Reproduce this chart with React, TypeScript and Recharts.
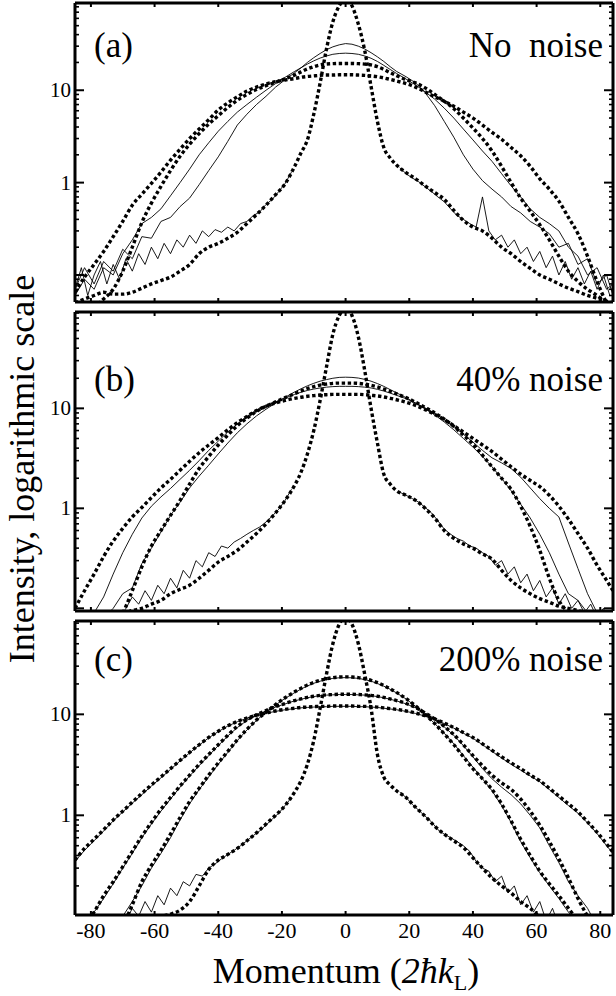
import React from "react";
import { LineChart, Line, XAxis, YAxis } from "recharts";

// momentum grid shared by the smooth curves
const momentum = [
  -85, -82, -79, -76, -73, -70, -67, -64, -61, -58, -55, -52, -49, -46, -43, -40, -37, -34, -31, -28, -25, -22, -19, -16,
  -14, -12, -10, -8, -6, -4, -2, 0, 2, 4, 6, 8, 10, 12, 14,
  16, 19, 22, 25, 28, 31, 34, 37, 40, 43, 46, 49, 52, 55, 58, 61, 64, 67, 70, 73, 76, 79, 82, 84,
];
// grids for the noisy wings of the measured narrow peak
const tailLeft = [
  -85, -83, -81, -79, -77, -75, -73, -71, -69, -67, -65, -63, -61, -59, -57, -55, -53, -51, -49, -47, -45, -43, -41, -39,
  -37, -35, -33, -31, -29, -27, -25, -23, -21, -19, -17,
];
const tailRight = [
  17, 19, 21, 23, 25, 27, 29, 31, 33, 35, 37, 39, 41, 43, 45, 47, 49, 51, 53, 55, 57, 59, 61, 63, 65, 67, 69, 71, 73, 75,
  77, 79, 81, 83,
];

const xTicks = [-80, -60, -40, -20, 0, 20, 40, 60, 80];
const panelTags = ["(a)", "(b)", "(c)"];
const panelTitles = ["No  noise", "40% noise", "200% noise"];

// (a) no noise
const aPeak = [0.05, 0.055, 0.06, 0.065, 0.062, 0.062, 0.065, 0.072, 0.08, 0.087, 0.095, 0.11, 0.13, 0.17, 0.2, 0.22, 0.25, 0.29, 0.36, 0.45, 0.57, 0.74, 0.97, 1.5, 2.1, 2.9, 5.5, 12, 28, 55, 82, 98, 82, 52, 27, 11, 4.6, 2.4, 1.85, 1.55, 1.28, 1.1, 0.92, 0.78, 0.66, 0.5, 0.39, 0.33, 0.3, 0.25, 0.2, 0.17, 0.14, 0.118, 0.1, 0.09, 0.08, 0.072, 0.066, 0.06, 0.056, 0.052, 0.05];
const aWide = [0.065, 0.095, 0.13, 0.18, 0.26, 0.38, 0.57, 0.75, 0.98, 1.3, 1.75, 2.3, 3.0, 3.8, 4.8, 6.1, 7.3, 8.5, 9.8, 10.8, 11.7, 12.4, 12.9, 13.4, 13.8, 14.1, 14.3, 14.5, 14.6, 14.6, 14.7, 14.7, 14.7, 14.6, 14.5, 14.3, 14.0, 13.6, 13.1, 12.6, 11.8, 10.8, 9.6, 8.5, 7.6, 6.7, 5.8, 5.0, 4.2, 3.5, 2.95, 2.4, 1.95, 1.5, 1.1, 0.85, 0.63, 0.42, 0.28, 0.16, 0.085, 0.05, 0.04];
const aBroad = [0.03, 0.038, 0.045, 0.055, 0.07, 0.11, 0.2, 0.37, 0.6, 0.91, 1.35, 1.93, 2.6, 3.4, 4.3, 5.3, 6.5, 7.8, 9.0, 10.2, 11.2, 12.2, 13.3, 14.6, 15.8, 17.0, 18.0, 18.8, 19.2, 19.4, 19.5, 19.5, 19.5, 19.4, 19.2, 18.8, 18.0, 16.8, 15.5, 14.4, 13.0, 12.0, 10.6, 9.0, 7.6, 6.3, 5.0, 3.9, 3.0, 2.2, 1.5, 1.0, 0.68, 0.49, 0.35, 0.24, 0.16, 0.11, 0.085, 0.07, 0.06, 0.05, 0.045];
const aSolidHigh = [0.07, 0.12, 0.08, 0.14, 0.11, 0.19, 0.15, 0.26, 0.25, 0.38, 0.42, 0.55, 0.68, 0.95, 1.35, 1.9, 2.8, 4.2, 5.5, 7.0, 8.6, 10.8, 13.0, 15.5, 17.5, 20, 22.5, 25, 27.5, 29.5, 31, 32, 31.5, 30, 28, 25.5, 23, 20.5, 18, 16, 14, 12, 9.4, 6.8, 4.6, 3.1, 2.0, 1.4, 1.05, 0.85, 0.7, 0.55, 0.47, 0.38, 0.33, 0.28, 0.2, 0.22, 0.13, 0.15, 0.08, 0.1, 0.06];
const aSolidLow = [0.06, 0.09, 0.07, 0.12, 0.1, 0.17, 0.24, 0.36, 0.42, 0.52, 0.72, 1.0, 1.4, 2.0, 2.7, 3.6, 4.6, 5.8, 7.0, 8.4, 10, 11.8, 13.8, 16, 17.5, 19.2, 20.8, 22.3, 23.5, 24.5, 25, 25.2, 25, 24.5, 23.5, 22.2, 20.5, 18.6, 16.8, 15.2, 13.2, 11.4, 9.6, 8.0, 6.4, 5.0, 3.8, 2.9, 2.2, 1.7, 1.25, 0.92, 0.7, 0.52, 0.42, 0.36, 0.3, 0.2, 0.16, 0.1, 0.12, 0.07, 0.08];
const aTailL = [0.07, 0.12, 0.06, 0.1, 0.14, 0.08, 0.13, 0.09, 0.15, 0.11, 0.17, 0.13, 0.2, 0.15, 0.22, 0.17, 0.24, 0.2, 0.27, 0.22, 0.3, 0.26, 0.31, 0.29, 0.33, 0.3, 0.36, 0.38, 0.44, 0.48, 0.58, 0.66, 0.8, 0.98, 1.3];
const aTailR = [1.45, 1.25, 1.12, 1.02, 0.9, 0.8, 0.7, 0.62, 0.52, 0.44, 0.4, 0.36, 0.33, 0.7, 0.3, 0.24, 0.27, 0.2, 0.24, 0.17, 0.2, 0.14, 0.18, 0.12, 0.16, 0.1, 0.14, 0.09, 0.12, 0.08, 0.11, 0.07, 0.1, 0.06];

// (b) 40% noise
const bPeak = [0.08, 0.08, 0.085, 0.085, 0.09, 0.09, 0.095, 0.1, 0.11, 0.12, 0.14, 0.155, 0.17, 0.2, 0.24, 0.29, 0.33, 0.38, 0.46, 0.56, 0.7, 0.9, 1.2, 1.7, 2.3, 3.5, 6, 12, 26, 55, 85, 100, 85, 52, 24, 10, 4.5, 2.2, 1.75, 1.5, 1.35, 1.2, 1.0, 0.8, 0.6, 0.5, 0.44, 0.4, 0.35, 0.31, 0.24, 0.19, 0.16, 0.14, 0.125, 0.115, 0.105, 0.1, 0.095, 0.09, 0.088, 0.085, 0.085];
const bWide = [0.1, 0.15, 0.22, 0.33, 0.47, 0.63, 0.82, 1.02, 1.28, 1.6, 1.95, 2.4, 2.95, 3.6, 4.3, 5.1, 6.1, 7.2, 8.3, 9.5, 10.5, 11.3, 12.0, 12.6, 12.9, 13.2, 13.4, 13.6, 13.7, 13.8, 13.8, 13.8, 13.8, 13.8, 13.7, 13.5, 13.3, 13.0, 12.6, 12.2, 11.5, 10.7, 9.7, 8.7, 7.7, 6.7, 5.8, 5.0, 4.3, 3.7, 3.1, 2.6, 2.2, 1.9, 1.65, 1.35, 1.05, 0.78, 0.56, 0.4, 0.27, 0.19, 0.15];
const bBroad = [0.04, 0.045, 0.05, 0.06, 0.07, 0.09, 0.15, 0.26, 0.42, 0.6, 0.85, 1.2, 1.75, 2.5, 3.3, 4.3, 5.4, 6.7, 8.0, 9.3, 10.5, 11.6, 12.8, 14.0, 14.9, 15.8, 16.5, 17.1, 17.5, 17.8, 17.9, 17.9, 17.9, 17.8, 17.5, 17.0, 16.4, 15.6, 14.8, 14.0, 12.8, 11.5, 10.2, 9.0, 7.8, 6.6, 5.4, 4.4, 3.4, 2.6, 2.0, 1.55, 1.05, 0.66, 0.38, 0.2, 0.12, 0.09, 0.075, 0.06, 0.05, 0.045, 0.04];
const bSolidHigh = [0.05, 0.06, 0.07, 0.08, 0.1, 0.14, 0.16, 0.28, 0.4, 0.58, 0.85, 1.15, 1.6, 2.1, 2.7, 3.5, 4.5, 5.7, 7.0, 8.4, 9.8, 11.3, 12.9, 14.6, 15.7, 16.8, 17.8, 18.7, 19.4, 20, 20.4, 20.5, 20.4, 20.1, 19.5, 18.7, 17.7, 16.6, 15.4, 14.3, 12.8, 11.3, 9.9, 8.6, 7.3, 6.1, 5.0, 4.1, 3.3, 2.6, 2.0, 1.5, 1.1, 0.8, 0.55, 0.36, 0.22, 0.14, 0.12, 0.09, 0.08, 0.07, 0.06];
const bSolidLow = [0.06, 0.07, 0.09, 0.13, 0.22, 0.36, 0.55, 0.8, 1.05, 1.3, 1.58, 1.95, 2.4, 3.0, 3.8, 4.7, 5.8, 7.0, 8.3, 9.5, 10.6, 11.6, 12.7, 13.8, 14.5, 15.1, 15.6, 16, 16.3, 16.5, 16.6, 16.6, 16.6, 16.5, 16.3, 16, 15.5, 14.9, 14.2, 13.5, 12.5, 11.3, 10.1, 8.9, 7.7, 6.6, 5.5, 4.6, 3.8, 3.2, 2.85, 2.5, 2.05, 1.6, 1.25, 1.0, 0.82, 0.45, 0.25, 0.14, 0.09, 0.07, 0.06];
const bTailL = [0.05, 0.05, 0.05, 0.05, 0.05, 0.06, 0.07, 0.08, 0.1, 0.13, 0.11, 0.15, 0.12, 0.17, 0.14, 0.2, 0.16, 0.24, 0.2, 0.3, 0.26, 0.36, 0.33, 0.42, 0.4, 0.46, 0.5, 0.55, 0.6, 0.65, 0.73, 0.84, 0.98, 1.2, 1.55];
const bTailR = [1.45, 1.35, 1.25, 1.15, 1.02, 0.9, 0.75, 0.62, 0.55, 0.5, 0.47, 0.42, 0.4, 0.36, 0.33, 0.27, 0.3, 0.22, 0.26, 0.18, 0.22, 0.15, 0.19, 0.13, 0.16, 0.11, 0.14, 0.1, 0.12, 0.09, 0.11, 0.08, 0.1, 0.07];

// (c) 200% noise
const cPeak = [0.09, 0.09, 0.09, 0.09, 0.09, 0.09, 0.09, 0.09, 0.095, 0.1, 0.105, 0.115, 0.14, 0.2, 0.29, 0.36, 0.41, 0.47, 0.56, 0.67, 0.82, 1.0, 1.25, 1.7, 2.2, 3.2, 5.5, 11.5, 25, 50, 78, 92, 78, 50, 25, 11.5, 4, 2.4, 2.0, 1.75, 1.5, 1.2, 0.98, 0.78, 0.65, 0.56, 0.48, 0.38, 0.3, 0.24, 0.2, 0.17, 0.14, 0.12, 0.1, 0.095, 0.09, 0.09, 0.09, 0.09, 0.09, 0.09, 0.09];
const cWide = [0.36, 0.47, 0.58, 0.72, 0.9, 1.1, 1.35, 1.65, 2.0, 2.4, 2.9, 3.5, 4.2, 5.0, 5.9, 6.8, 7.7, 8.5, 9.2, 9.8, 10.3, 10.8, 11.2, 11.5, 11.7, 11.8, 11.9, 12.0, 12.0, 12.1, 12.1, 12.1, 12.1, 12.0, 12.0, 11.9, 11.8, 11.6, 11.4, 11.2, 10.8, 10.3, 9.7, 9.0, 8.2, 7.4, 6.6, 5.9, 5.1, 4.4, 3.8, 3.3, 2.9, 2.5, 2.2, 1.85, 1.55, 1.3, 1.08, 0.86, 0.68, 0.52, 0.43];
const cMid = [0.06, 0.08, 0.11, 0.16, 0.22, 0.31, 0.44, 0.62, 0.85, 1.15, 1.5, 1.95, 2.5, 3.2, 4.0, 5.0, 6.2, 7.6, 8.8, 9.9, 10.9, 11.9, 12.8, 13.7, 14.2, 14.7, 15.1, 15.4, 15.6, 15.7, 15.8, 15.8, 15.8, 15.7, 15.6, 15.4, 15.1, 14.7, 14.2, 13.7, 12.8, 11.7, 10.3, 9.0, 7.6, 6.3, 5.0, 3.9, 3.1, 2.5, 2.1, 1.8, 1.45, 1.1, 0.8, 0.55, 0.37, 0.24, 0.15, 0.1, 0.07, 0.05, 0.04];
const cNarrow = [0.03, 0.035, 0.04, 0.045, 0.055, 0.08, 0.13, 0.22, 0.32, 0.45, 0.65, 0.95, 1.37, 1.85, 2.5, 3.3, 4.3, 5.6, 7.1, 8.8, 10.5, 12.5, 14.6, 16.7, 18.1, 19.5, 20.7, 21.7, 22.5, 23.1, 23.4, 23.5, 23.4, 23.1, 22.5, 21.7, 20.6, 19.3, 17.9, 16.5, 14.3, 12.1, 10.0, 8.1, 6.4, 5.0, 3.8, 2.9, 2.3, 1.8, 1.3, 0.88, 0.58, 0.4, 0.28, 0.21, 0.16, 0.12, 0.09, 0.07, 0.05, 0.04, 0.035];
const cSolidWide = [0.35, 0.45, 0.56, 0.7, 0.88, 1.08, 1.32, 1.6, 1.95, 2.35, 2.85, 3.45, 4.15, 4.95, 5.85, 6.75, 7.65, 8.45, 9.15, 9.75, 10.25, 10.7, 11.1, 11.4, 11.6, 11.7, 11.8, 11.9, 11.9, 12.0, 12.0, 12.0, 12.0, 11.9, 11.9, 11.8, 11.7, 11.5, 11.3, 11.1, 10.7, 10.2, 9.6, 8.9, 8.1, 7.3, 6.5, 5.8, 5.0, 4.3, 3.7, 3.2, 2.8, 2.45, 2.15, 1.8, 1.5, 1.25, 1.05, 0.84, 0.66, 0.5, 0.42];
const cSolidMid = [0.06, 0.08, 0.11, 0.15, 0.21, 0.3, 0.42, 0.6, 0.82, 1.1, 1.45, 1.9, 2.45, 3.1, 3.9, 4.9, 6.1, 7.4, 8.7, 9.8, 10.8, 11.8, 12.7, 13.6, 14.1, 14.6, 15.0, 15.3, 15.5, 15.6, 15.7, 15.7, 15.7, 15.6, 15.5, 15.3, 15.0, 14.6, 14.1, 13.6, 12.7, 11.6, 10.2, 8.9, 7.5, 6.2, 4.9, 3.8, 2.9, 2.3, 1.9, 1.6, 1.3, 1.0, 0.75, 0.5, 0.34, 0.22, 0.16, 0.12, 0.08, 0.06, 0.05];
const cSolidNarrow = [0.03, 0.035, 0.04, 0.05, 0.07, 0.1, 0.14, 0.2, 0.3, 0.42, 0.6, 0.9, 1.3, 1.8, 2.4, 3.2, 4.2, 5.5, 7.0, 8.7, 10.5, 12.4, 14.4, 16.4, 17.8, 19.1, 20.3, 21.3, 22.1, 22.7, 23.0, 23.1, 23.0, 22.7, 22.1, 21.3, 20.2, 19.0, 17.7, 16.3, 14.2, 12.0, 10.0, 8.1, 6.5, 5.1, 3.9, 3.0, 2.3, 1.75, 1.25, 0.85, 0.55, 0.38, 0.27, 0.2, 0.15, 0.11, 0.085, 0.06, 0.05, 0.04, 0.035];
const cTailL = [0.05, 0.05, 0.05, 0.05, 0.05, 0.06, 0.07, 0.08, 0.09, 0.12, 0.1, 0.14, 0.11, 0.16, 0.13, 0.19, 0.16, 0.22, 0.2, 0.26, 0.25, 0.3, 0.33, 0.37, 0.41, 0.45, 0.5, 0.56, 0.63, 0.7, 0.8, 0.92, 1.05, 1.25, 1.5];
const cTailR = [1.7, 1.5, 1.28, 1.12, 0.98, 0.86, 0.72, 0.65, 0.6, 0.55, 0.5, 0.44, 0.35, 0.3, 0.28, 0.22, 0.25, 0.17, 0.2, 0.13, 0.16, 0.11, 0.14, 0.09, 0.12, 0.08, 0.1, 0.07, 0.09, 0.06, 0.07, 0.05, 0.05, 0.05];

const pts = (xs: number[], ys: number[]) => xs.map((x, i) => ({ x, v: ys[i] }));
const wings = (l: number[], r: number[]) => [...pts(tailLeft, l), { x: 0, v: null }, ...pts(tailRight, r)];

const minorTicks = (lo: number, hi: number) => {
  const out: number[] = [];
  [0.01, 0.1, 1, 10].forEach((d) => {
    for (let k = 1; k <= 9; k++) {
      const t = +(k * d).toPrecision(3);
      if (t >= lo && t <= hi) out.push(t);
    }
  });
  return out;
};

const isDecade = (v: number) => Math.abs(Math.log10(v) - Math.round(Math.log10(v))) < 1e-6;
const serif = "Liberation Serif, DejaVu Serif, Times New Roman, serif";

const LeftTick = (p: any) => {
  const v = p.payload.value;
  const major = isDecade(v);
  return (
    <g>
      <line x1={p.x} x2={p.x + (major ? 9 : 4)} y1={p.y} y2={p.y} stroke="#000" strokeWidth={major ? 2 : 1.6} />
      {(v === 1 || v === 10) && (
        <text x={p.x - 4} y={p.y} textAnchor="end" dominantBaseline="central" fontSize={21} fontFamily={serif} fill="#000">
          {v}
        </text>
      )}
    </g>
  );
};

const RightTick = (p: any) => {
  const major = isDecade(p.payload.value);
  return <line x1={p.x} x2={p.x - (major ? 9 : 4)} y1={p.y} y2={p.y} stroke="#000" strokeWidth={major ? 2 : 1.6} />;
};

const TopTick = (p: any) => <line x1={p.x} x2={p.x} y1={p.y} y2={p.y + 4} stroke="#000" strokeWidth={2} />;

const makeBottomTick = (labels: boolean) => (p: any) => (
  <g>
    <line x1={p.x} x2={p.x} y1={p.y} y2={p.y - 4} stroke="#000" strokeWidth={2} />
    {labels && (
      <text x={p.x} y={p.y + 15} textAnchor="middle" dominantBaseline="central" fontSize={22} fontFamily={serif} fill="#000">
        {p.payload.value}
      </text>
    )}
  </g>
);

type Curve = { key: string; data: any[]; dotted: boolean };

const panels: {
  top: number;
  bottom: number;
  domain: [number, number];
  tagY: number;
  curves: Curve[];
}[] = [
  {
    top: 3,
    bottom: 302,
    domain: [0.051, 88],
    tagY: 46,
    curves: [
      { key: "tail", data: wings(aTailL, aTailR), dotted: false },
      { key: "s1", data: pts(momentum, aSolidHigh), dotted: false },
      { key: "s2", data: pts(momentum, aSolidLow), dotted: false },
      { key: "d1", data: pts(momentum, aWide), dotted: true },
      { key: "d2", data: pts(momentum, aBroad), dotted: true },
      { key: "pk", data: pts(momentum, aPeak), dotted: true },
    ],
  },
  {
    top: 312,
    bottom: 611,
    domain: [0.094, 92],
    tagY: 380,
    curves: [
      { key: "tail", data: wings(bTailL, bTailR), dotted: false },
      { key: "s1", data: pts(momentum, bSolidHigh), dotted: false },
      { key: "s2", data: pts(momentum, bSolidLow), dotted: false },
      { key: "d1", data: pts(momentum, bWide), dotted: true },
      { key: "d2", data: pts(momentum, bBroad), dotted: true },
      { key: "pk", data: pts(momentum, bPeak), dotted: true },
    ],
  },
  {
    top: 621,
    bottom: 915,
    domain: [0.103, 84],
    tagY: 660,
    curves: [
      { key: "tail", data: wings(cTailL, cTailR), dotted: false },
      { key: "s1", data: pts(momentum, cSolidWide), dotted: false },
      { key: "s2", data: pts(momentum, cSolidMid), dotted: false },
      { key: "s3", data: pts(momentum, cSolidNarrow), dotted: false },
      { key: "d1", data: pts(momentum, cWide), dotted: true },
      { key: "d2", data: pts(momentum, cMid), dotted: true },
      { key: "d3", data: pts(momentum, cNarrow), dotted: true },
      { key: "pk", data: pts(momentum, cPeak), dotted: true },
    ],
  },
];

const frame = { stroke: "#000", strokeWidth: 3 };

function Panel({ idx }: { idx: number }) {
  const p = panels[idx];
  const last = idx === panels.length - 1;
  const mt = 4;
  const mb = last ? 40 : 4;
  // axes on the top/bottom/right take 1px each
  const h = p.bottom - p.top + mt + mb + 1;
  const yTicks = minorTicks(p.domain[0], p.domain[1]);
  return (
    <div style={{ position: "absolute", left: 0, top: p.top - mt }}>
      <LineChart width={616} height={h} margin={{ top: mt - 1, right: 2, bottom: mb, left: 0 }}>
        <XAxis
          dataKey="x"
          type="number"
          domain={[-85, 84]}
          allowDataOverflow
          ticks={xTicks}
          interval={0}
          height={1}
          tickSize={0}
          tickMargin={0}
          axisLine={frame}
          tickLine={false}
          tick={makeBottomTick(last)}
        />
        <XAxis
          xAxisId="top"
          orientation="top"
          dataKey="x"
          type="number"
          domain={[-85, 84]}
          allowDataOverflow
          ticks={xTicks}
          interval={0}
          height={1}
          tickSize={0}
          tickMargin={0}
          axisLine={frame}
          tickLine={false}
          tick={TopTick}
        />
        <YAxis
          type="number"
          scale="log"
          domain={p.domain}
          allowDataOverflow
          ticks={yTicks}
          interval={0}
          width={75}
          tickSize={0}
          tickMargin={0}
          axisLine={frame}
          tickLine={false}
          tick={LeftTick}
        />
        <YAxis
          yAxisId="right"
          orientation="right"
          type="number"
          scale="log"
          domain={p.domain}
          allowDataOverflow
          ticks={yTicks}
          interval={0}
          width={1}
          tickSize={0}
          tickMargin={0}
          axisLine={frame}
          tickLine={false}
          tick={RightTick}
        />
        {p.curves.map((c) => (
          <Line
            key={c.key}
            data={c.data}
            dataKey="v"
            type={c.dotted ? "monotone" : "linear"}
            stroke="#000"
            strokeWidth={c.dotted ? 3.4 : 0.9}
            strokeDasharray={c.dotted ? "3.4 2.6" : undefined}
            dot={false}
            activeDot={false}
            connectNulls={false}
            isAnimationActive={false}
          />
        ))}
      </LineChart>
    </div>
  );
}

const textStyle: React.CSSProperties = {
  position: "absolute",
  fontFamily: serif,
  fontSize: 35,
  lineHeight: "36px",
  color: "#000",
  whiteSpace: "pre",
};

export default function App() {
  return (
    <div style={{ position: "absolute", left: 0, top: 0, width: 616, height: 996, background: "#fff" }}>
      {panels.map((p, i) => (
        <React.Fragment key={i}>
          <Panel idx={i} />
          <div style={{ ...textStyle, left: 94, top: p.tagY - 18 }}>{panelTags[i]}</div>
          <div style={{ ...textStyle, right: 13, top: p.tagY - 18 }}>{panelTitles[i]}</div>
        </React.Fragment>
      ))}
      <div
        style={{
          ...textStyle,
          fontSize: 36,
          left: 22,
          top: 469,
          transform: "translate(-50%, -50%) rotate(-90deg)",
        }}
      >
        Intensity, logarithmic scale
      </div>
      <div
        style={{
          ...textStyle,
          fontSize: 36,
          lineHeight: "34px",
          left: 346,
          top: 971,
          transform: "translate(-50%, -50%)",
        }}
      >
        Momentum (<i>2ħk</i>
        <sub style={{ fontSize: 22, lineHeight: "10px", verticalAlign: -7 }}>L</sub>)
      </div>
    </div>
  );
}
